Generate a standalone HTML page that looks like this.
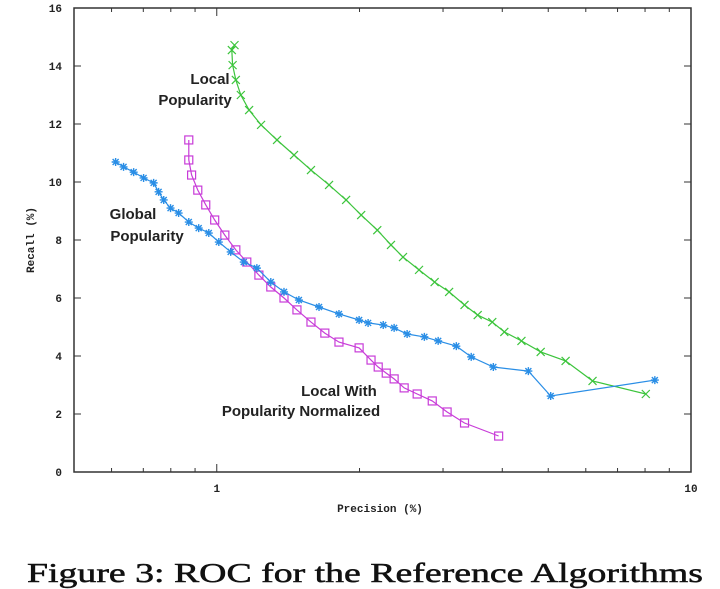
<!DOCTYPE html>
<html><head><meta charset="utf-8"><style>
html,body{margin:0;padding:0;background:#fff;}
svg{display:block;}
</style></head><body>
<svg id="chart" width="720" height="589" xmlns="http://www.w3.org/2000/svg">
<rect x="0" y="0" width="720" height="589" fill="#fff"/>
<g id="axes"></g>
<g id="series"></g>
<text x="211" y="84" font-family="Liberation Sans, sans-serif" font-weight="bold" font-size="15" fill="#222" text-anchor="middle"><tspan x="210">Local</tspan><tspan x="195" dy="21">Popularity</tspan></text>
<text x="126" y="219" font-family="Liberation Sans, sans-serif" font-weight="bold" font-size="15" fill="#222" text-anchor="middle"><tspan x="133">Global</tspan><tspan x="147" dy="22">Popularity</tspan></text>
<text x="340" y="396" font-family="Liberation Sans, sans-serif" font-weight="bold" font-size="15" fill="#222" text-anchor="middle"><tspan x="339">Local With</tspan><tspan x="301" dy="20">Popularity Normalized</tspan></text>
<text x="380" y="512" font-family="Liberation Mono, monospace" font-weight="bold" font-size="11" fill="#222" text-anchor="middle">Precision (%)</text>
<text x="0" y="0" transform="translate(34,240) rotate(-90)" font-family="Liberation Mono, monospace" font-weight="bold" font-size="11" fill="#222" text-anchor="middle">Recall (%)</text>
<text x="27" y="582" font-family="Liberation Serif, serif" font-size="27" fill="#111" stroke="#111" stroke-width="0.5" textLength="676" lengthAdjust="spacingAndGlyphs">Figure 3: ROC for the Reference Algorithms</text>
</svg>
<script>
const yTicks=[0,2,4,6,8,10,12,14,16];
const xTickLabels=[1,10];
const xMinorTicks=[0.6,0.7,0.8,0.9,2,3,4,5,6,7,8,9];
const localX=[1.09,1.076,1.08,1.097,1.124,1.17,1.24,1.34,1.455,1.58,1.725,1.874,2.016,2.18,2.33,2.47,2.67,2.88,3.09,3.33,3.55,3.81,4.04,4.39,4.82,5.44,6.2,8.03];
const localY=[14.72,14.55,14.03,13.52,13.0,12.48,11.97,11.45,10.93,10.41,9.9,9.38,8.86,8.34,7.83,7.41,6.97,6.55,6.21,5.76,5.41,5.17,4.83,4.52,4.14,3.83,3.14,2.69];
const normX=[0.873,0.873,0.885,0.912,0.948,0.99,1.04,1.097,1.157,1.227,1.30,1.386,1.476,1.58,1.69,1.81,1.996,2.115,2.19,2.277,2.366,2.484,2.646,2.847,3.06,3.33,3.93];
const normY=[11.45,10.76,10.24,9.72,9.21,8.69,8.17,7.66,7.24,6.79,6.38,6.0,5.59,5.17,4.79,4.48,4.28,3.86,3.62,3.41,3.21,2.9,2.69,2.45,2.07,1.69,1.24];
const globalX=[0.612,0.636,0.668,0.701,0.736,0.754,0.773,0.799,0.831,0.873,0.916,0.962,1.01,1.07,1.14,1.215,1.30,1.386,1.49,1.643,1.81,1.996,2.085,2.244,2.366,2.52,2.74,2.93,3.2,3.44,3.83,4.54,5.06,8.39];
const globalY=[10.69,10.52,10.34,10.14,9.97,9.66,9.38,9.10,8.93,8.62,8.41,8.24,7.93,7.59,7.24,7.03,6.55,6.21,5.93,5.69,5.45,5.24,5.14,5.07,4.97,4.76,4.66,4.52,4.34,3.97,3.62,3.48,2.62,3.17];

const L=74,R=691,T=8,B=472,XMIN=0.5,XMAX=10,YMAX=16;
function sx(v){return L+(Math.log10(v)-Math.log10(XMIN))/(Math.log10(XMAX)-Math.log10(XMIN))*(R-L);}
function sy(v){return B-v/YMAX*(B-T);}
const NS='http://www.w3.org/2000/svg';
function mk(tag,attrs,parent){const e=document.createElementNS(NS,tag);for(const k in attrs)e.setAttribute(k,attrs[k]);parent.appendChild(e);return e;}
const axes=document.getElementById('axes');
const frame=mk('rect',{x:L,y:T,width:R-L,height:B-T,fill:'none',stroke:'#333','stroke-width':1.5},axes);


yTicks.forEach(v=>{
  const y=sy(v);
  mk('line',{x1:L,y1:y,x2:L+7,y2:y,stroke:'#333'},axes);
  mk('line',{x1:R,y1:y,x2:R-7,y2:y,stroke:'#333'},axes);
  const t=mk('text',{x:L-12,y:y+4,'font-family':'Liberation Mono, monospace','font-weight':'bold','font-size':11,'text-anchor':'end',fill:'#222'},axes);
  t.textContent=v;
  
  
});
xTickLabels.forEach(v=>{
  const x=sx(v);
  mk('line',{x1:x,y1:B,x2:x,y2:B-8,stroke:'#333'},axes);
  mk('line',{x1:x,y1:T,x2:x,y2:T+8,stroke:'#333'},axes);
  const t=mk('text',{x:x,y:B+20,'font-family':'Liberation Mono, monospace','font-weight':'bold','font-size':11,'text-anchor':'middle',fill:'#222'},axes);
  t.textContent=v;
  
  
});
xMinorTicks.forEach(v=>{
  const x=sx(v);
  mk('line',{x1:x,y1:B,x2:x,y2:B-4,stroke:'#333'},axes);
  mk('line',{x1:x,y1:T,x2:x,y2:T+4,stroke:'#333'},axes);
});
const ser=document.getElementById('series');
function drawSeries(xs,ys,color,marker,name){
  const g=mk('g',{},ser);
  
  
  const pts=xs.map((v,i)=>sx(v).toFixed(1)+','+sy(ys[i]).toFixed(1)).join(' ');
  mk('polyline',{points:pts,fill:'none',stroke:color,'stroke-width':1.2},g);
  xs.forEach((v,i)=>{
    const x=sx(v),y=sy(ys[i]),s=4;
    if(marker==='x'){
      mk('path',{d:`M${x-s},${y-s}L${x+s},${y+s}M${x-s},${y+s}L${x+s},${y-s}`,stroke:color,'stroke-width':1.2,fill:'none'},g);
    }else if(marker==='sq'){
      mk('rect',{x:x-s,y:y-s,width:2*s,height:2*s,stroke:color,'stroke-width':1.2,fill:'none'},g);
    }else{
      mk('path',{d:`M${x-s},${y}L${x+s},${y}M${x},${y-s}L${x},${y+s}M${x-3},${y-3}L${x+3},${y+3}M${x-3},${y+3}L${x+3},${y-3}`,stroke:color,'stroke-width':1.4,fill:'none'},g);
    }
  });
}
drawSeries(localX,localY,'#3cc43c','x','series-local-popularity');
drawSeries(normX,normY,'#c83cd8','sq','series-local-with-popularity-normalized');
drawSeries(globalX,globalY,'#2a8ee6','star','series-global-popularity');
</script>
</body></html>
